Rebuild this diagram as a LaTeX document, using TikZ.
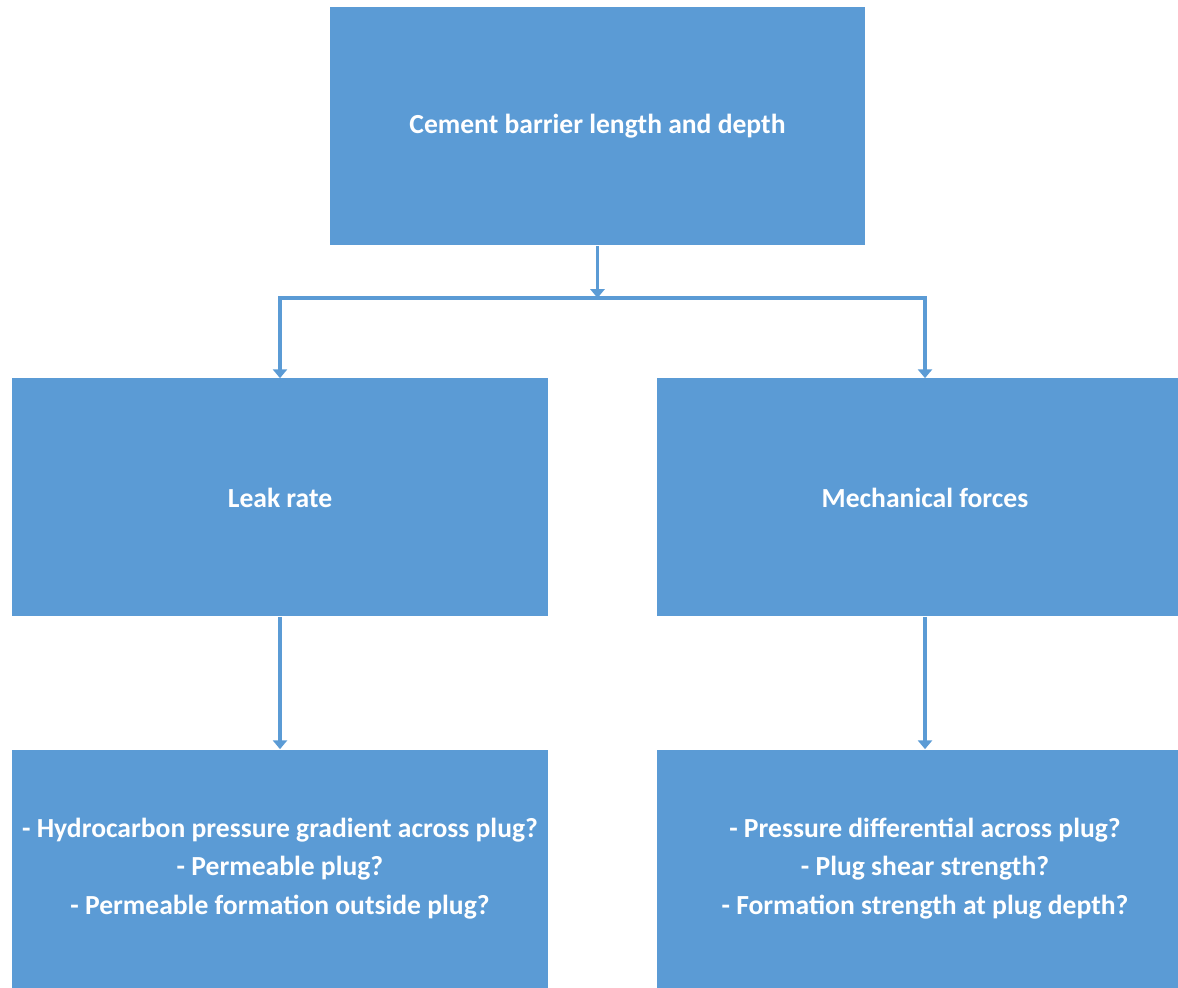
\documentclass[tikz,border=0pt]{standalone}
\usepackage{fontspec}
\setmainfont{Carlito}
\usetikzlibrary{arrows.meta}
\definecolor{boxblue}{HTML}{5B9BD5}
\tikzset{
  blockbox/.style={fill=boxblue, minimum width=10.72cm, minimum height=4.76cm,
    text=white, align=center, font=\bfseries\fontsize{15.7}{22}\selectfont},
  link/.style={draw=boxblue, line width=1.9pt, -{Triangle[width=8pt,length=5pt]}}
}
\begin{document}
\begin{tikzpicture}
\useasboundingbox (0,0) rectangle (23.56,19.74);
\clip (0,0) rectangle (23.56,19.74);

\node[blockbox, minimum width=10.7cm] (cement) at (11.95,17.21) {Cement barrier length and depth};
\node[blockbox] (leak) at (5.6,9.79) {Leak rate};
\node[blockbox] (mech) at (18.5,9.79) {Mechanical forces};
\node[blockbox] (leakq) at (5.6,2.37) {- Hydrocarbon pressure gradient across plug?\\- Permeable plug?\\- Permeable formation outside plug?};
\node[blockbox] (mechq) at (18.5,2.37) {- Pressure differential across plug?\\- Plug shear strength?\\- Formation strength at plug depth?};

\coordinate (split) at (cement.south |- 0,13.78);
\draw[link] (cement) -- (split);
\draw[link] (split) -| (leak);
\draw[link] (split) -| (mech);
\draw[link] (leak) -- (leakq);
\draw[link] (mech) -- (mechq);
\end{tikzpicture}
\end{document}
